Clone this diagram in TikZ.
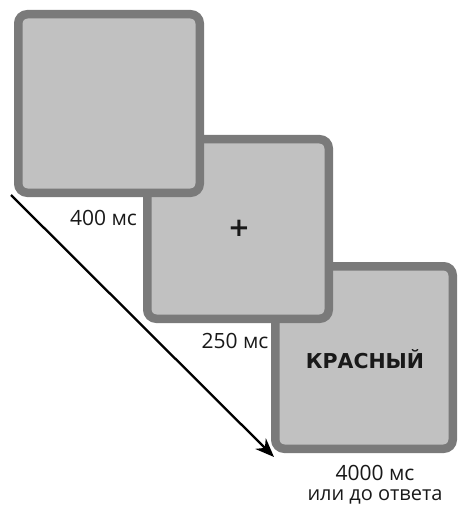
\documentclass[tikz,border=0pt]{standalone}
\usepackage{fontspec}
\setmainfont{Open Sans}
\newfontfamily\boldfont{DejaVu Sans}
\usetikzlibrary{arrows.meta}
\definecolor{boxfill}{RGB}{193,193,193}
\definecolor{boxline}{RGB}{122,122,122}
\definecolor{txt}{RGB}{25,25,25}
\tikzset{
  screen/.style={draw=boxline, fill=boxfill, line width=8.5pt, rounded corners=9pt, inner sep=0pt, outer sep=0pt},
  lbl/.style={text=txt, font=\fontsize{21}{25}\selectfont, inner sep=0pt, anchor=base},
  timearrow/.style={line width=2.3pt, draw=black, -{Stealth[length=19pt, width=15pt]}}
}
\begin{document}
\begin{tikzpicture}[x=1pt,y=-1pt]
\useasboundingbox (0,0) rectangle (459,505);
% squares, back to front
\node[screen, minimum width=177.5pt, minimum height=182.5pt] (s3) at (364,357.5) {};
\node[screen, minimum width=181.5pt, minimum height=179.5pt] (s2) at (238,229) {};
\node[screen, minimum width=181.5pt, minimum height=178.5pt] (s1) at (109,103.5) {};
% contents
\node[text=txt, font=\boldfont\bfseries\fontsize{26}{30}\selectfont, inner sep=0pt] (plus) at (239,228) {+};
\node[text=txt, font=\boldfont\bfseries\fontsize{20.5}{24}\selectfont, inner sep=0pt, anchor=base] (word) at (365,368) {КРАСНЫЙ};
% labels
\node[lbl] (l1) at (103.5,225) {400 мс};
\node[lbl] (l2) at (235,348) {250 мс};
\node[lbl] (l3) at (375,480) {4000 мс};
\node[lbl, font=\fontsize{20}{24}\selectfont] (l4) at (375,500) {или до ответа};
% time arrow
\coordinate (a0) at (11,195);
\coordinate (a1) at (274,457);
\draw[timearrow] (a0) -- (a1);
\end{tikzpicture}
\end{document}
